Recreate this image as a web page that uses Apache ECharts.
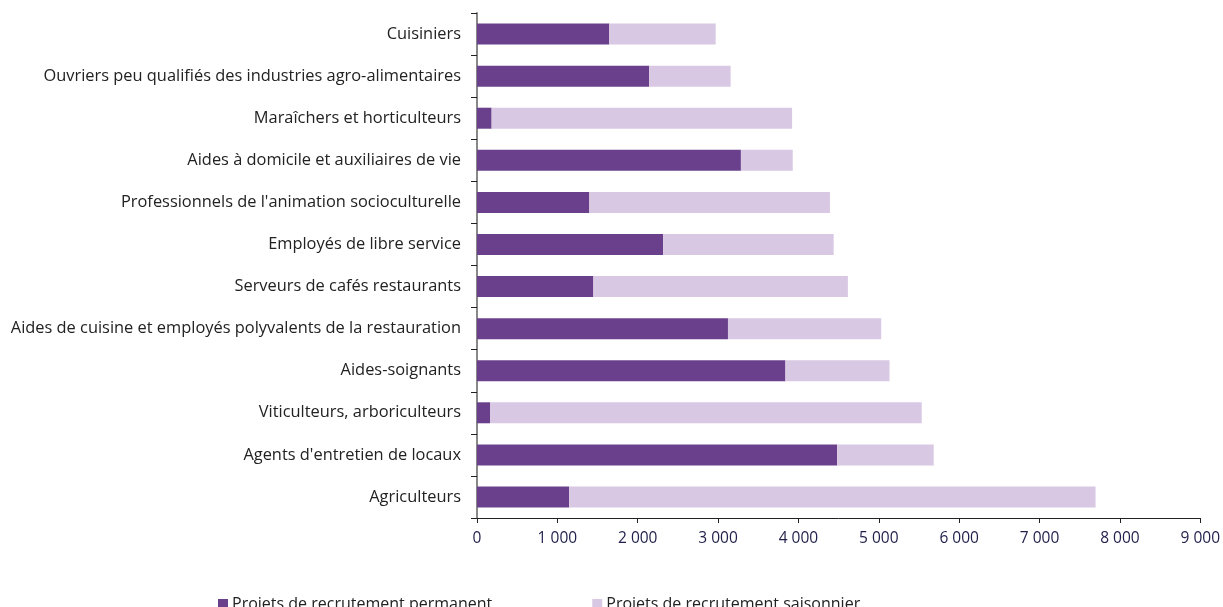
<!DOCTYPE html>
<html>
<head>
<meta charset="utf-8">
<script src="https://cdn.jsdelivr.net/npm/echarts@6/dist/echarts.min.js"></script>
<style>
html,body{margin:0;padding:0;background:#fff;}
#chart{width:1223px;height:607px;}
</style>
</head>
<body>
<div id="chart"></div>
<script>
// Categories listed bottom to top (as drawn on category axis)
const categories = [
  "Agriculteurs",
  "Agents d'entretien de locaux",
  "Viticulteurs, arboriculteurs",
  "Aides-soignants",
  "Aides de cuisine et employés polyvalents de la restauration",
  "Serveurs de cafés restaurants",
  "Employés de libre service",
  "Professionnels de l'animation socioculturelle",
  "Aides à domicile et auxiliaires de vie",
  "Maraîchers et horticulteurs",
  "Ouvriers peu qualifiés des industries agro-alimentaires",
  "Cuisiniers"
];
const permanent = [1146, 4481, 162, 3838, 3123, 1448, 2316, 1398, 3284, 182, 2143, 1646];
const saisonnier = [6551, 1202, 5372, 1295, 1907, 3167, 2122, 2994, 645, 3739, 1013, 1324];
const seriesNames = ["Projets de recrutement permanent", "Projets de recrutement saisonnier"];
const xMin = 0, xMax = 9000, xStep = 1000;

const fmt = v => String(v).replace(/\B(?=(\d{3})+(?!\d))/g, " ");

const chart = echarts.init(document.getElementById('chart'));
chart.setOption({
  animation: false,
  textStyle: { fontFamily: "'Open Sans', sans-serif" },
  grid: { left: 477, right: 20, top: 13, bottom: 89, containLabel: false },
  xAxis: {
    type: 'value', min: xMin, max: xMax, interval: xStep,
    axisLine: { show: true, lineStyle: { color: '#222', width: 1 } },
    axisTick: { show: true, length: 5, lineStyle: { color: '#222' } },
    splitLine: { show: false },
    axisLabel: { color: '#1e1e4b', fontSize: 15.5, margin: 13, formatter: v => fmt(v), fontFamily: "'Open Sans', sans-serif" }
  },
  yAxis: {
    type: 'category', data: categories,
    axisLine: { show: true, lineStyle: { color: '#888', width: 2 } },
    axisTick: { show: true, length: 6, lineStyle: { color: '#222' } },
    axisLabel: { color: '#222', fontSize: 16.4, margin: 16, fontFamily: "'Open Sans', sans-serif" }
  },
  legend: {
    left: 213, top: 591, itemWidth: 10, itemHeight: 10, itemGap: 100,
    icon: 'rect',
    textStyle: { color: '#222', fontSize: 16, fontFamily: "'Open Sans', sans-serif", padding: [0,0,0,-1] },
    data: seriesNames
  },
  series: [
    { name: seriesNames[0], type: 'bar', stack: 'tot', data: permanent, barWidth: 21,
      itemStyle: { color: '#6a408c' } },
    { name: seriesNames[1], type: 'bar', stack: 'tot', data: saisonnier, barWidth: 21,
      itemStyle: { color: '#d9c8e3' } }
  ]
});
</script>
</body>
</html>
